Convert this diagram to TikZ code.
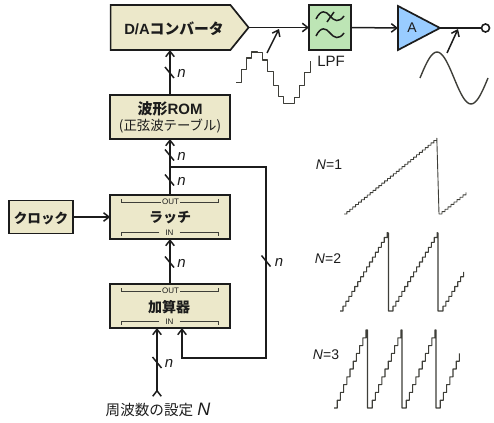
\documentclass[tikz,border=0pt]{standalone}
\usepackage{fontspec}
\setmainfont{Liberation Sans}
\newfontfamily\cjk{Noto Sans CJK JP}
\usetikzlibrary{arrows.meta,shapes.symbols}
\definecolor{boxfill}{HTML}{ECE8CA}
\definecolor{inkc}{HTML}{1C1C1C}
\definecolor{lpfgreen}{HTML}{BDE5B5}
\definecolor{ampblue}{HTML}{99CCFF}
\definecolor{wavec}{HTML}{3E3E38}
\newcommand{\fs}[1]{\fontsize{#1}{#1}\selectfont}
\tikzset{
  x=1pt,y=-1pt,
  >={Straight Barb[length=5.5pt,width=8.5pt,line width=1.5pt]},
  block/.style={draw=inkc,fill=boxfill,line width=1.7pt,minimum height=44pt,minimum width=119.5pt,inner sep=0pt,outer sep=0pt,align=center,text=inkc},
  conn/.style={draw=inkc,line width=1.5pt},
  tick/.style={draw=inkc,line width=1.5pt},
  nlab/.style={font=\fs{15}\itshape,text=inkc,inner sep=0pt},
  txt/.style={text=inkc,inner sep=0pt},
  brk/.style={draw=wavec,line width=0.8pt},
  port/.style={font=\fs{8},text=inkc,inner sep=0pt},
  wave/.style={draw=wavec,line width=1.1pt,line join=round},
}
% staircase: x0,y0,dx,dy,n
\newcommand{\stairs}[5]{plot[const plot,domain=0:#5,samples=#5+1] ({#1+\x*#3},{#2-\x*#4})}
\newcommand{\lstairs}[5]{-- plot[const plot,domain=0:#5,samples=#5+1] ({#1+\x*#3},{#2-\x*#4})}
\newcommand{\slashmark}[3]{\draw[tick] (#1-4.5,#2-5.5) -- (#1+4.5,#2+5.5); \node[nlab] at (#1+#3,#2+1) {n};}
\begin{document}
\begin{tikzpicture}
\useasboundingbox (0,0) rectangle (494,422);
% blocks
\node[draw=inkc,fill=boxfill,line width=1.7pt,signal,signal to=east,signal pointer angle=102,minimum width=138pt,minimum height=45pt,inner sep=0pt,outer sep=0pt] (da) at (170.5,27.5) {};
\node[txt,font=\fs{14.8}\bfseries] (datext) at (174,28.5) {D/A{\cjk コンバータ}};
\node[block] (rom) at (170,117) {};
\node[txt,font=\fs{15}\bfseries] (romt) at (170,108.5) {{\cjk 波形}ROM};
\node[txt,font=\fs{13.4}] (romb) at (170,126.5) {{\cjk (正弦波テーブル)}};
\node[block] (latch) at (170,217) {};
\node[txt,font=\fs{14}\bfseries\cjk] (latcht) at (170,218) {ラッチ};
\node[block] (adder) at (170,306) {};
\node[txt,font=\fs{14}\bfseries\cjk] (addert) at (169,307) {加算器};
\node[block,minimum width=64pt,minimum height=33pt] (clock) at (41,217) {};
\node[txt,font=\fs{13.6}\bfseries\cjk] (clockt) at (41,218) {クロック};
% port brackets
\node[port] (lo) at (170.5,202) {OUT};
\draw[brk] (lo.west) ++(-1,0.5) -- (121.5,202.5) -- (121.5,199);
\draw[brk] (lo.east) ++(1,0.5) -- (218,202.5) -- (218,199);
\node[port] (li) at (169.5,233) {IN};
\draw[brk] (li.west) ++(-6,-1) -- (121.5,232) -- (121.5,236);
\draw[brk] (li.east) ++(6,-1) -- (218,232) -- (218,236);
\node[port] (ao) at (170.5,291) {OUT};
\draw[brk] (ao.west) ++(-1,0.5) -- (121.5,291.5) -- (121.5,288);
\draw[brk] (ao.east) ++(1,0.5) -- (218,291.5) -- (218,288);
\node[port] (ai) at (169.5,322) {IN};
\draw[brk] (ai.west) ++(-6,-1) -- (121.5,321) -- (121.5,325);
\draw[brk] (ai.east) ++(6,-1) -- (218,321) -- (218,325);
% LPF
\node[draw=inkc,fill=lpfgreen,line width=1.7pt,minimum width=42pt,minimum height=45pt,inner sep=0pt,outer sep=0pt] (lpf) at (330,27.5) {};
\draw[inkc,line width=1.5pt] (316,19) .. controls (321,9) and (326,11) .. (330,16) .. controls (334,21) and (339,23) .. (344,16);
\draw[inkc,line width=1.5pt] (316,36) .. controls (321,26) and (326,28) .. (330,33) .. controls (334,38) and (339,40) .. (344,33);
\draw[inkc,line width=1.5pt] (327,22) -- (334,12);
\node[txt,font=\fs{15}] (lpfl) at (331,61) {LPF};
% amplifier
\coordinate (ampin) at (398,28);
\coordinate (ampout) at (440,28);
\draw[draw=inkc,fill=ampblue,line width=1.7pt,line join=miter] (398,6) -- (ampout) -- (398,50) -- cycle;
\node[txt,font=\fs{14}] (ampl) at (412,28) {A};
\node[draw=inkc,fill=white,circle,line width=1.6pt,minimum size=8pt,inner sep=0pt,outer sep=0pt] (outc) at (485.5,28) {};
% main connectors
\draw[conn,->] (rom.north) -- (rom.north |- da.south);
\draw[conn,->] (latch.north) -- (rom.south);
\draw[conn,->] (adder.north) -- (latch.south);
\draw[conn,->] (clock.east) -- (latch.west |- clock.east);
\draw[conn,->] (da.east) -- (lpf.west);
\draw[conn,->] (lpf.east) -- (ampin);
\draw[conn] (ampout) -- (outc.west);
% feedback
\coordinate (junc) at (170,167);
\coordinate (fbin) at (182,328);
\draw[conn,->] (junc) -- (266,167) -- (266,358) -- (182,358) -- (fbin);
% input
\node[txt,font=\fs{14.6}] (freq) at (158,410) {{\cjk 周波数の設定} {\fs{18}\textit{N}}};
\coordinate (inb) at (157,397);
\coordinate (intop) at (157,328);
\draw[conn,{Straight Barb[reversed,length=5.5pt,width=8.5pt,line width=1.5pt]}->] (inb) -- (intop);
% bus marks
\slashmark{169.5}{72.5}{12}
\slashmark{169.5}{155}{12}
\slashmark{169.5}{180}{12}
\slashmark{169.5}{262}{12}
\slashmark{157}{362.5}{12}
\slashmark{266}{261}{13}
% stepped sine
\draw[wave] plot[const plot,domain=0:14,samples=15] ({236+\x*5.3},{78-26.5*sin((\x*5.3-1.75)/65*360)});
\coordinate (w1a) at (267,53); \coordinate (w1b) at (279,29);
\draw[conn,->] (w1a) -- (w1b);
% smooth sine
\draw[wave,line width=1.4pt] plot[smooth,domain=0:360,samples=37] ({420+\x/360*68},{78-26*sin(\x)});
\coordinate (w2a) at (447,53); \coordinate (w2b) at (458,29);
\draw[conn,->] (w2a) -- (w2b);
% sawtooth labels
\node[txt,font=\fs{14}] (n1) at (329,165) {\textit{N}=1};
\node[txt,font=\fs{14}] (n2) at (328,258.5) {\textit{N}=2};
\node[txt,font=\fs{14}] (n3) at (326,354.5) {\textit{N}=3};
% N=1
\draw[wave,line width=0.9pt] \stairs{344}{214}{2.9}{2.37}{32} -- (439,214) \lstairs{439}{214}{3}{2.4}{9};
% N=2
\draw[wave] \stairs{340}{311}{2.95}{4.9}{16} -- (388.5,233) -- (388.5,311) \lstairs{390}{311}{2.95}{4.9}{16} -- (438,233) -- (438,311) \lstairs{440}{311}{2.95}{4.9}{8};
% N=3
\draw[wave] \stairs{334}{408}{3.2}{7.8}{10} -- (367.5,330) -- (367.5,408) \lstairs{369}{408}{3.2}{7.8}{10} -- (402,330) -- (402,408) \lstairs{403}{408}{3.2}{7.8}{10} -- (436,330) -- (436,408) \lstairs{437}{408}{3.2}{7.8}{7};
\end{tikzpicture}
\end{document}
